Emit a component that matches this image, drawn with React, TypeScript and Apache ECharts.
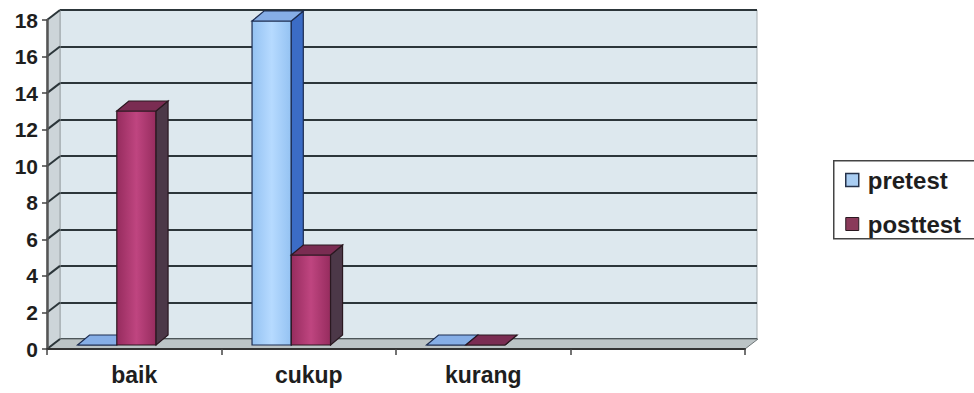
import React, { useEffect, useRef } from "react";
import * as echarts from "echarts";

const categories = ["baik", "cukup", "kurang", ""];
const seriesNames = ["pretest", "posttest"];
const pretest = [0, 18, 0];
const posttest = [13, 5, 0];
const yTicks = [0, 2, 4, 6, 8, 10, 12, 14, 16, 18];

const DX = 13;
const DY = -10;
const BDX = 12;
const BDY = -10;
const FONT = "'Liberation Sans', Arial, sans-serif";
const TEXT = "#1e1e1e";

const palettes: any = {
  pretest: { front: "#94c2f2", light: "#b6daff", side: "#3b6cc6", top: "#86aee6", edge: "#1c2c50" },
  posttest: { front: "#962c5e", light: "#bf4580", side: "#4c3848", top: "#7a2c52", edge: "#2a1820" },
};

function barRender(idx: number) {
  const p = palettes[seriesNames[idx]];
  return (params: any, api: any) => {
    const i = api.value(0);
    const v = api.value(1);
    const top = api.coord([i, v]);
    const base = api.coord([i, 0]);
    const band = api.size([1, 0])[0];
    const w = band * 0.225;
    const shift = band * 0.1;
    const x0 = top[0] - shift - w + idx * w;
    const yt = top[1];
    const yb = base[1];
    const stroke = { stroke: p.edge, lineWidth: 1.2 };
    return {
      type: "group",
      children: [
        {
          type: "rect",
          shape: { x: x0, y: yt, width: w, height: yb - yt },
          style: {
            fill: new echarts.graphic.LinearGradient(0, 0, 1, 0, [
              { offset: 0, color: p.front },
              { offset: 0.5, color: p.light },
              { offset: 1, color: p.front },
            ]),
            ...stroke,
          },
        },
        {
          type: "polygon",
          shape: { points: [[x0 + w, yt], [x0 + w + BDX, yt + BDY], [x0 + w + BDX, yb + BDY], [x0 + w, yb]] },
          style: { fill: p.side, ...stroke },
        },
        {
          type: "polygon",
          shape: { points: [[x0, yt], [x0 + BDX, yt + BDY], [x0 + w + BDX, yt + BDY], [x0 + w, yt]] },
          style: { fill: p.top, ...stroke },
        },
      ],
    };
  };
}

export default function App() {
  const ref = useRef<HTMLDivElement>(null);
  useEffect(() => {
    const chart = echarts.init(ref.current!, null, { renderer: "svg" });
    const option: any = {
      animation: false,
      backgroundColor: "#ffffff",
      graphic: [
        {
          type: "rect",
          left: 833,
          top: 160,
          z: 0,
          silent: true,
          shape: { width: 200, height: 78 },
          style: { fill: "#ffffff", stroke: "#444", lineWidth: 1.5 },
        },
      ],
      grid: [
        { left: 47, top: 20, width: 698, height: 329 },
        { left: 60, top: 10, width: 697, height: 329, show: true, backgroundColor: "#dde8ee", borderColor: "#a8b0b4", borderWidth: 1, z: 0 },
        { left: 47, top: 21, width: 698, height: 324 },
      ],
      xAxis: [
        {
          type: "category",
          gridIndex: 0,
          data: categories,
          axisLine: { lineStyle: { color: "#333", width: 2 } },
          axisTick: { show: true, length: 6, interval: 0, lineStyle: { color: "#444", width: 1.5 } },
          axisLabel: { fontFamily: FONT, fontWeight: "bold", fontSize: 23, color: TEXT, margin: 14, interval: 0 },
          z: 5,
        },
        { type: "category", gridIndex: 1, data: categories, show: false },
        { type: "category", gridIndex: 2, data: categories, show: false },
      ],
      yAxis: [
        {
          type: "value",
          gridIndex: 0,
          min: 0,
          max: 18,
          interval: 2,
          axisLine: { show: true, lineStyle: { color: "#555", width: 2.5 } },
          axisTick: { show: true, length: 5, lineStyle: { color: "#444", width: 1.5 } },
          axisLabel: { fontFamily: FONT, fontWeight: "bold", fontSize: 21, color: TEXT, margin: 9 },
          splitLine: { show: false },
          z: 5,
        },
        {
          type: "value",
          gridIndex: 1,
          min: 0,
          max: 18,
          interval: 2,
          axisLine: { show: false },
          axisTick: { show: false },
          axisLabel: { show: false },
          splitLine: { show: true, lineStyle: { color: "#2c363a", width: 2 } },
        },
        { type: "value", gridIndex: 2, min: 0, max: 18, interval: 2, show: false, splitLine: { show: false } },
      ],
      legend: {
        data: [
          { name: "pretest", itemStyle: { color: "#a9cdf2", borderColor: "#26324a", borderWidth: 1.5 } },
          { name: "posttest", itemStyle: { color: "#8a3a5a", borderColor: "#2a1820", borderWidth: 1 } },
        ],
        orient: "vertical",
        left: 833,
        top: 160,
        icon: "rect",
        itemWidth: 13,
        itemHeight: 13,
        itemGap: 20,
        padding: [8, 4, 5, 12],
        borderWidth: 0,
        z: 5,
        textStyle: { fontFamily: FONT, fontWeight: "bold", fontSize: 24, color: TEXT, padding: [0, 0, 0, 4] },
      },
      series: [
        {
          type: "custom",
          name: "walls",
          xAxisIndex: 0,
          yAxisIndex: 0,
          silent: true,
          z: 1,
          data: [[0, 0]],
          renderItem: (params: any) => {
            const cs = params.coordSys;
            const x = cs.x, y = cs.y, w = cs.width, h = cs.height;
            return {
              type: "group",
              children: [
                {
                  type: "polygon",
                  shape: { points: [[x, y], [x + DX, y + DY], [x + DX, y + h + DY], [x, y + h]] },
                  style: { fill: "#cdd5d9", stroke: "#9aa2a6", lineWidth: 1 },
                },
                {
                  type: "polygon",
                  shape: { points: [[x, y + h], [x + DX, y + h + DY], [x + w + DX, y + h + DY], [x + w, y + h]] },
                  style: { fill: "#bcc4c6", stroke: "#6e7678", lineWidth: 1 },
                },
              ],
            };
          },
        },
        {
          type: "custom",
          name: "connectors",
          xAxisIndex: 0,
          yAxisIndex: 0,
          silent: true,
          z: 1,
          data: yTicks.map((v) => [0, v]),
          renderItem: (params: any, api: any) => {
            const cs = params.coordSys;
            const y = api.coord([0, api.value(1)])[1];
            return {
              type: "line",
              shape: { x1: cs.x, y1: y, x2: cs.x + DX, y2: y + DY },
              style: { stroke: "#2c363a", lineWidth: 2 },
            };
          },
        },
        {
          type: "custom",
          name: "pretest",
          xAxisIndex: 2,
          yAxisIndex: 2,
          z: 3,
          itemStyle: { color: "#a9cdf2" },
          data: pretest.map((v, i) => [i, v]),
          renderItem: barRender(0),
        },
        {
          type: "custom",
          name: "posttest",
          xAxisIndex: 2,
          yAxisIndex: 2,
          z: 3,
          itemStyle: { color: "#8a3a5a" },
          data: posttest.map((v, i) => [i, v]),
          renderItem: barRender(1),
        },
      ],
    };
    chart.setOption(option);
    return () => chart.dispose();
  }, []);
  return (
    <div
      ref={ref}
      style={{ position: "absolute", left: 0, top: 0, width: 974, height: 393, background: "#fff" }}
    />
  );
}
